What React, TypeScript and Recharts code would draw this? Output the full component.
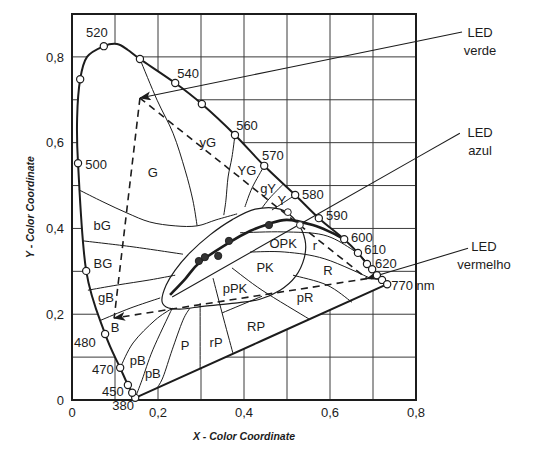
import React from 'react';
import {
  ComposedChart,
  Scatter,
  XAxis,
  YAxis,
  CartesianGrid,
  ReferenceLine,
  ReferenceDot,
  ReferenceArea,
} from 'recharts';

const INK = '#1c1c1c';
const FONT = '"Liberation Sans", Arial, Helvetica, sans-serif';

// axis ticks (grid every 0.1, labels every 0.2)
const xTicks = [0, 0.1, 0.2, 0.3, 0.4, 0.5, 0.6, 0.7, 0.8];
const yTicks = [0, 0.1, 0.2, 0.3, 0.4, 0.5, 0.6, 0.7, 0.8, 0.9];

// spectral locus as drawn (0 = no marker)
const locusNm = [380, 450, 460, 470, 480, 490, 500, 0, 510, 0, 520, 0, 0, 530, 540, 550, 560, 570, 580, 590, 600, 610, 620, 630, 640, 650, 770];
const locusX = [0.147, 0.14, 0.13, 0.112, 0.077, 0.033, 0.014, 0.012, 0.019, 0.035, 0.074, 0.105, 0.13, 0.158, 0.24, 0.302, 0.379, 0.447, 0.519, 0.574, 0.633, 0.665, 0.686, 0.698, 0.709, 0.721, 0.733];
const locusY = [0.005, 0.017, 0.035, 0.075, 0.154, 0.301, 0.552, 0.66, 0.748, 0.8, 0.825, 0.83, 0.816, 0.795, 0.739, 0.69, 0.618, 0.546, 0.478, 0.424, 0.375, 0.343, 0.317, 0.305, 0.291, 0.28, 0.27];

// Planckian locus (thick) and the illuminant dots
const planckX = [0.228, 0.263, 0.298, 0.367, 0.414, 0.456, 0.5, 0.56, 0.6, 0.633];
const planckY = [0.245, 0.282, 0.322, 0.368, 0.394, 0.41, 0.42, 0.408, 0.392, 0.375];
const dotX = [0.295, 0.309, 0.34, 0.365, 0.458];
const dotY = [0.324, 0.333, 0.336, 0.371, 0.408];

// ellipse outline (closed)
const ellipseX = [0.209, 0.219, 0.24, 0.274, 0.321, 0.372, 0.426, 0.484, 0.523, 0.542, 0.54, 0.519, 0.484, 0.437, 0.379, 0.309, 0.251, 0.219];
const ellipseY = [0.233, 0.268, 0.303, 0.343, 0.385, 0.42, 0.445, 0.445, 0.415, 0.373, 0.331, 0.287, 0.256, 0.235, 0.226, 0.219, 0.212, 0.217];

// colour-name region boundaries
const regionLines: number[][][] = [
  [[0.158, 0.795], [0.198, 0.699], [0.235, 0.622], [0.263, 0.536], [0.281, 0.466], [0.291, 0.406]],
  [[0.379, 0.618], [0.372, 0.566], [0.363, 0.52], [0.358, 0.466], [0.353, 0.431]],
  [[0.447, 0.546], [0.419, 0.495], [0.402, 0.45]],
  [[0.491, 0.503], [0.46, 0.471], [0.442, 0.448]],
  [[0.519, 0.478], [0.484, 0.455], [0.465, 0.443]],
  [[0.016, 0.49], [0.072, 0.462], [0.128, 0.436], [0.181, 0.415], [0.24, 0.406], [0.291, 0.406], [0.335, 0.42], [0.384, 0.434]],
  [[0.026, 0.371], [0.142, 0.357], [0.258, 0.34]],
  [[0.037, 0.256], [0.105, 0.268], [0.181, 0.28], [0.24, 0.291]],
  [[0.067, 0.186], [0.135, 0.214], [0.205, 0.238]],
  [[0.112, 0.075], [0.142, 0.133], [0.193, 0.186], [0.233, 0.214]],
  [[0.147, 0.005], [0.163, 0.047], [0.188, 0.117], [0.233, 0.214]],
  [[0.198, 0.028], [0.212, 0.054], [0.233, 0.117], [0.258, 0.186], [0.274, 0.214]],
  [[0.298, 0.072], [0.298, 0.226]],
  [[0.374, 0.11], [0.349, 0.203], [0.328, 0.284]],
  [[0.349, 0.203], [0.442, 0.242]],
  [[0.372, 0.308], [0.442, 0.256], [0.551, 0.189]],
  [[0.514, 0.291], [0.593, 0.268], [0.651, 0.228]],
  [[0.414, 0.345], [0.495, 0.345], [0.588, 0.329], [0.698, 0.282]],
  [[0.391, 0.39], [0.491, 0.392], [0.584, 0.385], [0.647, 0.354], [0.686, 0.322]],
];

// LED triangle vertices (green, blue, red)
const ledX = [0.158, 0.098, 0.686];
const ledY = [0.704, 0.191, 0.283];

// region names
const regionText = ['G', 'yG', 'YG', 'gY', 'Y', 'bG', 'BG', 'gB', 'B', 'pB', 'pB', 'P', 'rP', 'RP', 'pPK', 'PK', 'OPK', 'r', 'R', 'pR'];
const regionTX = [0.188, 0.316, 0.407, 0.456, 0.488, 0.07, 0.072, 0.079, 0.1, 0.153, 0.188, 0.263, 0.335, 0.428, 0.379, 0.449, 0.491, 0.565, 0.595, 0.542];
const regionTY = [0.531, 0.601, 0.536, 0.494, 0.466, 0.408, 0.319, 0.238, 0.17, 0.091, 0.061, 0.126, 0.133, 0.172, 0.261, 0.308, 0.366, 0.361, 0.303, 0.24];

// wavelength labels
const nmText = ['520', '540', '560', '570', '500', '580', '590', '600', '610', '620', '770 nm', '480', '470', '450', '380'];
const nmTX = [0.058, 0.27, 0.407, 0.467, 0.056, 0.56, 0.616, 0.674, 0.705, 0.73, 0.793, 0.03, 0.072, 0.095, 0.119];
const nmTY = [0.858, 0.762, 0.641, 0.571, 0.55, 0.478, 0.431, 0.38, 0.35, 0.319, 0.268, 0.133, 0.07, 0.019, -0.012];

// LED callouts: label position, line start (by the label), point where the line
// crosses the right frame, and line end inside the diagram
const calloutText = [['LED', 'verde'], ['LED', 'azul'], ['LED', 'vermelho']];
const calloutTX = [0.949, 0.949, 0.958];
const calloutTY = [0.837, 0.602, 0.337];
const calloutFromX = [0.907, 0.902, 0.921];
const calloutFromY = [0.858, 0.622, 0.354];
const calloutEdgeX = [0.8, 0.8, 0.8];
const calloutEdgeY = [0.836, 0.564, 0.317];
const calloutToX = [0.158, 0.233, 0.686];
const calloutToY = [0.704, 0.24, 0.283];
const calloutArrow = [true, false, true];

const zip = (xs: number[], ys: number[]) => xs.map((x, i) => ({ x, y: ys[i] }));

type P = { x: number; y: number };
function smoothPath(pts: P[], closed: boolean) {
  const n = pts.length;
  if (n < 2) return '';
  const get = (i: number) => {
    if (closed) return pts[(i + n) % n];
    return pts[Math.max(0, Math.min(n - 1, i))];
  };
  let d = `M${pts[0].x},${pts[0].y}`;
  const segs = closed ? n : n - 1;
  for (let i = 0; i < segs; i++) {
    const p0 = get(i - 1), p1 = get(i), p2 = get(i + 1), p3 = get(i + 2);
    const c1x = p1.x + (p2.x - p0.x) / 6, c1y = p1.y + (p2.y - p0.y) / 6;
    const c2x = p2.x - (p3.x - p1.x) / 6, c2y = p2.y - (p3.y - p1.y) / 6;
    d += ` C${c1x},${c1y} ${c2x},${c2y} ${p2.x},${p2.y}`;
  }
  return closed ? d + 'Z' : d;
}

const noDot = () => <g />;
const fmt = (v: number) => {
  const r = Math.round(v * 10);
  if (r % 2) return '';
  return r === 0 ? '0' : (r / 10).toFixed(1).replace('.', ',');
};

const curveLine = (w: number, dash?: string, arrow?: boolean) => (p: any) => (
  <path
    d={smoothPath(p.points, false)}
    fill="none"
    stroke={INK}
    strokeWidth={w}
    strokeDasharray={dash}
    markerEnd={arrow ? 'url(#ah)' : undefined}
  />
);

export default function App() {
  const locus = zip(locusX, locusY).map((p, i) => ({ ...p, nm: locusNm[i] }));
  const markers = locus.filter((p) => p.nm > 0);
  const planck = zip(planckX, planckY);
  const dots = zip(dotX, dotY);
  const ellipse = zip(ellipseX, ellipseY);
  const led = zip(ledX, ledY);
  const textStyle = { fontFamily: FONT, fontSize: 13, fill: INK } as any;

  return (
    <div style={{ position: 'relative' }}>
      <svg width={0} height={0} style={{ position: 'absolute' }}>
        <defs>
          <marker id="ah" markerUnits="userSpaceOnUse" markerWidth={12} markerHeight={9} refX={11} refY={4.5} orient="auto">
            <path d="M0,0 L12,4.5 L0,9 L3,4.5 Z" fill={INK} />
          </marker>
        </defs>
      </svg>
      <ComposedChart width={534} height={449} margin={{ top: 6, right: 126, bottom: 27, left: 24 }}>
        <CartesianGrid stroke="#3a3a3a" strokeWidth={1} />
        <XAxis
          type="number"
          dataKey="x"
          domain={[0, 0.8]}
          ticks={xTicks}
          interval={0}
          tickFormatter={fmt}
          tickLine={false}
          axisLine={{ stroke: INK, strokeWidth: 2 }}
          tick={{ fill: INK, fontSize: 13, fontFamily: FONT }}
          height={30}
          label={(props: any) => {
            const vb = props.viewBox;
            return (
              <text x={vb.x + vb.width / 2} y={vb.y + vb.height + 6} textAnchor="middle" dominantBaseline="central"
                style={{ fontFamily: FONT, fontSize: 10.5, fontWeight: 700, fontStyle: 'italic', fill: INK }}>
                X - Color Coordinate
              </text>
            );
          }}
        />
        <YAxis
          type="number"
          dataKey="y"
          domain={[0, 0.9]}
          ticks={yTicks}
          interval={0}
          tickFormatter={fmt}
          tickLine={false}
          axisLine={{ stroke: INK, strokeWidth: 2 }}
          tick={{ fill: INK, fontSize: 13, fontFamily: FONT }}
          width={40}
          label={(props: any) => {
            const vb = props.viewBox;
            const cx = vb.x - 2;
            const cy = vb.y + vb.height / 2;
            return (
              <text x={cx} y={cy} transform={`rotate(-90 ${cx} ${cy})`} textAnchor="middle" dominantBaseline="central"
                style={{ fontFamily: FONT, fontSize: 10.5, fontWeight: 700, fontStyle: 'italic', fill: INK }}>
                Y - Color Coordinate
              </text>
            );
          }}
        />
        <ReferenceArea x1={0} x2={0.8} y1={0} y2={0.9} fill="none" fillOpacity={0} stroke={INK} strokeWidth={2} />

        {/* callout lines, outer part (beyond the frame) */}
        {calloutFromX.map((fx, i) => (
          <ReferenceLine
            key={'cl' + i}
            ifOverflow="visible"
            segment={[{ x: fx, y: calloutFromY[i] }, { x: calloutEdgeX[i], y: calloutEdgeY[i] }]}
            shape={(p: any) => (
              <line x1={p.x1} y1={p.y1} x2={p.x2} y2={p.y2} stroke={INK} strokeWidth={1.1} />
            )}
          />
        ))}

        {/* white interior of the horseshoe */}
        <Scatter
          data={locus}
          isAnimationActive={false}
          shape={noDot}
          line={(p: any) => <path d={smoothPath(p.points, false) + 'Z'} fill="#ffffff" stroke="none" />}
        />

        {regionLines.map((ln, i) => (
          <Scatter
            key={'rl' + i}
            data={ln.map(([x, y]) => ({ x, y }))}
            isAnimationActive={false}
            shape={noDot}
            line={curveLine(1)}
          />
        ))}

        <Scatter
          data={ellipse}
          isAnimationActive={false}
          shape={noDot}
          line={(p: any) => <path d={smoothPath(p.points, true)} fill="none" stroke={INK} strokeWidth={1.2} />}
        />

        {/* spectral locus + purple line */}
        <Scatter data={locus} isAnimationActive={false} shape={noDot} line={curveLine(2)} />
        <Scatter data={[locus[0], locus[locus.length - 1]]} isAnimationActive={false} shape={noDot} line={curveLine(2)} />

        {/* Planckian locus */}
        <Scatter data={planck} isAnimationActive={false} shape={noDot} line={curveLine(2.6)} />

        {/* LED gamut triangle */}
        <Scatter data={[led[0], led[1]]} isAnimationActive={false} shape={noDot} line={curveLine(1.6, '7 5')} />
        <Scatter data={[led[0], led[2]]} isAnimationActive={false} shape={noDot} line={curveLine(1.6, '7 5')} />
        <Scatter data={[led[2], led[1]]} isAnimationActive={false} shape={noDot} line={curveLine(1.6, '7 5', true)} />

        {/* callout lines, inner part */}
        {calloutEdgeX.map((ex, i) => (
          <Scatter
            key={'ci' + i}
            data={[{ x: ex, y: calloutEdgeY[i] }, { x: calloutToX[i], y: calloutToY[i] }]}
            isAnimationActive={false}
            shape={noDot}
            line={curveLine(1.1, undefined, calloutArrow[i])}
          />
        ))}

        <Scatter
          data={markers}
          isAnimationActive={false}
          shape={(p: any) => <circle cx={p.cx} cy={p.cy} r={3.6} fill="#fff" stroke={INK} strokeWidth={1.2} />}
        />
        <Scatter
          data={dots}
          isAnimationActive={false}
          shape={(p: any) => <circle cx={p.cx} cy={p.cy} r={3.6} fill="#333" stroke="#222" strokeWidth={1} />}
        />
        <Scatter
          data={[{ x: 0.502, y: 0.438 }, { x: 0.53, y: 0.408 }]}
          isAnimationActive={false}
          shape={(p: any) => <circle cx={p.cx} cy={p.cy} r={3.4} fill="#fff" stroke={INK} strokeWidth={1} />}
        />

        {regionText.map((t, i) => (
          <ReferenceDot key={'rt' + i} x={regionTX[i]} y={regionTY[i]} r={0} ifOverflow="visible"
            shape={(p: any) => (
              <text x={p.cx} y={p.cy} textAnchor="middle" dominantBaseline="central" style={textStyle}>{t}</text>
            )}
          />
        ))}
        {nmText.map((t, i) => (
          <ReferenceDot key={'nm' + i} x={nmTX[i]} y={nmTY[i]} r={0} ifOverflow="visible"
            shape={(p: any) => (
              <text x={p.cx} y={p.cy} textAnchor="middle" dominantBaseline="central" style={textStyle}>{t}</text>
            )}
          />
        ))}
        {calloutText.map((lines, i) => (
          <ReferenceDot key={'ct' + i} x={calloutTX[i]} y={calloutTY[i]} r={0} ifOverflow="visible"
            shape={(p: any) => (
              <text x={p.cx} y={p.cy} textAnchor="middle" style={textStyle}>
                <tspan x={p.cx} dy={-9} dominantBaseline="central">{lines[0]}</tspan>
                <tspan x={p.cx} dy={18} dominantBaseline="central">{lines[1]}</tspan>
              </text>
            )}
          />
        ))}
      </ComposedChart>
    </div>
  );
}
